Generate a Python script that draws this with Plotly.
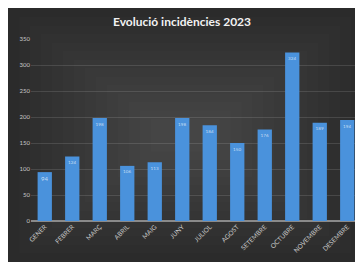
import plotly.graph_objects as go

months = ["GENER", "FEBRER", "MARÇ", "ABRIL", "MAIG", "JUNY", "JULIOL",
          "AGOST", "SETEMBRE", "OCTUBRE", "NOVEMBRE", "DESEMBRE"]
incidencies = [94, 124, 198, 106, 113, 198, 184, 150, 176, 324, 189, 194]
y_ticks = [0, 50, 100, 150, 200, 250, 300, 350]

# figure placed by the page at (8, 8)
W, H = 355, 254
L, R, T, B = 23, 1.5, 30.5, 41
pw, ph = W - L - R, H - T - B

def px_x(p):
    return (p - L) / pw

def px_y(p):
    return (H - B - p) / ph

fig = go.Figure()
fig.add_trace(go.Bar(
    x=months, y=incidencies,
    marker=dict(color="#4a92dc", line=dict(width=0)),
    text=[str(v) for v in incidencies],
    textposition="inside", insidetextanchor="end",
    textfont=dict(size=6, color="rgba(255,255,255,0.7)", family="Lato"),
    textangle=0,
))

shapes = []
# soft radial-ish lightening toward the centre
n = 14
for i in range(1, n):
    dx, dy = 11 * i, 8.5 * i
    shapes.append(dict(type="rect", xref="paper", yref="paper", layer="below",
                       x0=px_x(0 + dx), x1=px_x(W - dx),
                       y0=px_y(H - dy), y1=px_y(0 + dy),
                       fillcolor="rgba(255,255,255,0.013)", line=dict(width=0)))

fig.update_layout(
    width=W, height=H,
    margin=dict(l=L, r=R, t=T, b=B, autoexpand=False),
    paper_bgcolor="#2b2b2b",
    plot_bgcolor="rgba(0,0,0,0)",
    bargap=0.48,
    showlegend=False,
    shapes=shapes,
    title=dict(text="<b>Evolució incidències 2023</b>", x=174 / W, xanchor="center",
               y=1 - 14 / H, yanchor="middle", yref="container",
               font=dict(family="Lato", size=12, color="#f2f2f2")),
    font=dict(family="Lato"),
    xaxis=dict(tickangle=-45, tickfont=dict(size=6.5, color="#c8c8c8"),
               showgrid=False, showline=False, ticks="", automargin=False),
    yaxis=dict(range=[0, 350], tickvals=y_ticks,
               tickfont=dict(size=6, color="#c8c8c8"),
               gridcolor="rgba(255,255,255,0.12)", gridwidth=1,
               zeroline=True, zerolinecolor="#8a8a8a", zerolinewidth=1.5,
               showline=False, ticks="", automargin=False),
)

fig.write_html("out.html")
